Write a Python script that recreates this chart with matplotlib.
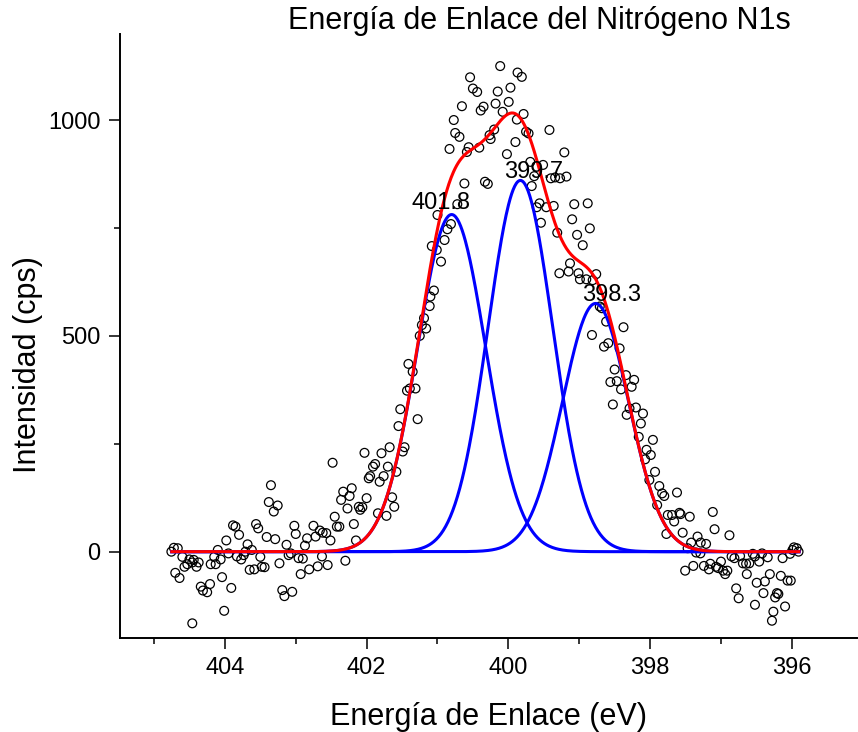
import numpy as np
import matplotlib
matplotlib.use("Agg")
import matplotlib.pyplot as plt
from matplotlib.ticker import MultipleLocator

plt.rcParams['font.family'] = ['Liberation Sans', 'DejaVu Sans']

# measured points (binding energy in eV, counts per second)
energy = [
    404.755, 404.72, 404.665, 404.70, 404.64, 404.60, 404.57, 404.53, 404.50, 404.46,
    404.44, 404.40, 404.37, 404.46, 404.34, 404.31, 404.25, 404.21, 404.20, 404.15,
    404.13, 404.10, 404.06, 404.04, 404.01, 403.98, 403.95, 403.91, 403.885, 403.85,
    403.80, 403.83, 403.77, 403.735, 403.71, 403.68, 403.65, 403.62, 403.585, 403.56,
    403.53, 403.50, 403.48, 403.44, 403.41, 403.38, 403.35, 403.31, 403.255, 403.29,
    403.23, 403.19, 403.16, 403.13, 403.10, 403.07, 403.05, 403.02, 403.00, 402.96,
    402.93, 402.90, 402.87, 402.84, 402.81,
    402.75, 402.72, 402.66, 402.62, 402.57, 402.69, 402.63, 402.55, 402.51, 402.48,
    402.45, 402.42, 402.385, 402.36, 402.33, 402.30, 402.27, 402.24, 402.21, 402.18,
    402.15, 402.11, 402.09, 402.06, 402.03, 402.00, 401.97, 401.95, 401.91, 401.88,
    401.84, 401.816, 401.79, 401.76, 401.72, 401.70, 401.675, 401.64, 401.61, 401.58,
    401.55, 401.525, 401.49, 401.465, 401.43, 401.41, 401.39,
    401.11, 401.19, 401.22, 401.16, 401.25, 401.35, 401.31, 401.28,
    400.115, 400.54, 400.50, 400.44, 400.655, 400.15, 399.97, 399.87, 400.18, 399.995,
    400.35, 400.39, 400.08, 400.77, 400.75, 400.69, 400.20, 400.265, 400.25, 400.83,
    400.56, 400.585, 400.41, 399.90, 400.02, 399.88, 400.62, 400.33, 400.29, 400.72,
    401.00, 400.81, 400.86, 400.90, 401.08, 401.01, 400.95, 401.05, 401.10,
    399.81, 399.785, 399.75, 399.715, 399.42, 399.21, 399.69, 399.635, 399.51, 399.40,
    399.34, 399.27, 399.18, 399.67, 399.56, 399.60, 399.465, 399.36, 399.07, 398.88,
    399.54, 399.10, 398.85, 399.31, 399.03, 398.95, 399.13, 399.28, 399.15, 399.01,
    398.99, 398.90, 398.76, 398.81, 398.68, 398.71, 398.62, 398.375, 398.82, 398.65,
    398.59, 398.43,
    398.50, 398.34, 398.56, 398.47, 398.41, 398.525, 398.29, 398.33,
    398.225, 398.26, 398.20, 398.10, 398.13, 398.16, 397.96, 398.05, 397.99, 398.07,
    397.93, 398.01, 397.87, 397.83, 397.80, 397.62, 397.90, 397.75, 397.69, 397.66,
    397.585, 397.57, 397.44, 397.115, 397.77, 397.54, 397.09, 396.88, 397.42, 397.33,
    397.285, 397.21, 397.47, 397.35, 397.29, 397.505, 397.39, 397.24, 397.15, 397.17,
    397.07, 397.00, 397.04, 396.97, 396.94, 396.91, 396.85, 396.81, 396.73, 396.69,
    396.645, 396.60, 396.55, 396.52, 396.46, 396.42, 396.34, 396.635, 396.495, 396.38,
    396.31, 396.785, 396.75, 396.40, 396.52, 396.21, 396.19, 396.235, 396.095, 396.26,
    396.28, 396.155, 396.06, 396.015, 396.13, 396.025, 395.97, 395.93, 395.905, 395.99,
]
counts = [
    0, 9, 8, -49, -61, -12, -35, -29, -18, -25,
    -19, -35, -25, -166, -81, -90, -94, -75, -29, -12,
    -29, 4, -18, -59, -137, 26, -4, -84, 61, 58,
    39, -11, -18, -8, 0, 17, -42, 4, -41, 64,
    54, -12, -35, -36, 34, 115, 154, 93, 107, 29,
    -27, -89, -103, 16, -8, -4, -93, 60, 41, -15,
    -52, -16, 14, 31, -41,
    60, 35, 49, 44, 43, -34, -11, -31, 26, 206,
    81, 58, 58, 120, 139, -21, 100, 129, 147, 64,
    26, 104, 97, 103, 229, 124, 170, 175, 197, 203,
    89, 162, 228, 175, 83, 197, 242, 126, 104, 185,
    291, 330, 232, 242, 373, 435, 378,
    569, 541, 525, 517, 500, 417, 378, 307,
    1125, 1099, 1073, 1065, 1032, 1066, 1075, 1110, 1038, 1042,
    1031, 1022, 1019, 1000, 970, 961, 978, 965, 956, 933,
    937, 926, 936, 949, 921, 1001, 853, 857, 852, 805,
    780, 759, 747, 722, 708, 699, 672, 605, 591,
    1100, 1014, 973, 969, 977, 925, 903, 870, 896, 865,
    867, 865, 869, 847, 807, 798, 798, 801, 805, 807,
    762, 770, 749, 739, 734, 710, 668, 645, 649, 645,
    631, 631, 643, 629, 564, 568, 533, 520, 502, 475,
    483, 471,
    422, 409, 393, 395, 376, 341, 332, 317,
    398, 382, 334, 320, 297, 266, 259, 236, 224, 214,
    185, 166, 152, 135, 129, 137, 108, 85, 85, 70,
    90, 87, 81, 92, 41, 44, 52, 38, 21, 35,
    21, 18, 8, -2, -4, -44, -33, -33, -28, -41,
    -35, -23, -38, -44, -52, -44, -11, -15, -10, -27,
    -28, -27, -5, -11, -23, -4, -13, -52, -72, -69,
    -52, -85, -108, -96, -123, -96, -98, -106, -127, -139,
    -160, -56, -67, -67, -15, -5, 10, 8, 0, 4,
]

# fitted components: centre (eV), height (cps), sigma (eV)
peak_center = [400.80, 399.83, 398.77]
peak_height = [781, 860, 575]
peak_sigma = [0.48, 0.455, 0.465]
peak_label = ["401.8", "399.7", "398.3"]
label_x = [400.95, 399.65, 398.54]
label_y = [795, 865, 581]

fig = plt.figure(figsize=(8.58, 7.32), dpi=100)
ax = fig.add_axes([120 / 858, 94 / 732, 737 / 858, 604.3 / 732])

ax.scatter(energy, counts, s=40, facecolors='none', edgecolors='black',
           linewidths=0.9, zorder=2)

e_fit = np.linspace(404.75, 395.9, 800)
total = np.zeros_like(e_fit)
for c, h, s in zip(peak_center, peak_height, peak_sigma):
    comp = h * np.exp(-(e_fit - c) ** 2 / (2 * s ** 2))
    total += comp
    ax.plot(e_fit, comp, color='#0000FF', lw=2.2, zorder=3)
ax.plot(e_fit, total, color='#FF0000', lw=2.2, zorder=4)

for t, x, y in zip(peak_label, label_x, label_y):
    ax.text(x, y, t, fontsize=17, ha='center', va='baseline', zorder=5)

ax.set_xlim(405.48, 395.08)
ax.set_ylim(-200, 1200)
ax.xaxis.set_major_locator(MultipleLocator(2))
ax.xaxis.set_minor_locator(MultipleLocator(1))
ax.yaxis.set_major_locator(MultipleLocator(500))
ax.yaxis.set_minor_locator(MultipleLocator(250))
ax.tick_params(which='major', direction='out', length=8, width=1.1,
               labelsize=17, pad=6)
ax.tick_params(which='minor', direction='out', length=4.3, width=1.1)
for side in ['top', 'right']:
    ax.spines[side].set_visible(False)
for side in ['left', 'bottom']:
    ax.spines[side].set_linewidth(1.4)

ax.set_xlabel("Energía de Enlace (eV)", fontsize=22, labelpad=16.5)
ax.set_ylabel("Intensidad (cps)", fontsize=22)
ax.yaxis.set_label_coords(-0.1045, 0.452)
fig.text(539 / 858, 1 - 29 / 732, "Energía de Enlace del Nitrógeno N1s",
         fontsize=22, ha='center', va='baseline')

fig.savefig("out.png", dpi=100)
